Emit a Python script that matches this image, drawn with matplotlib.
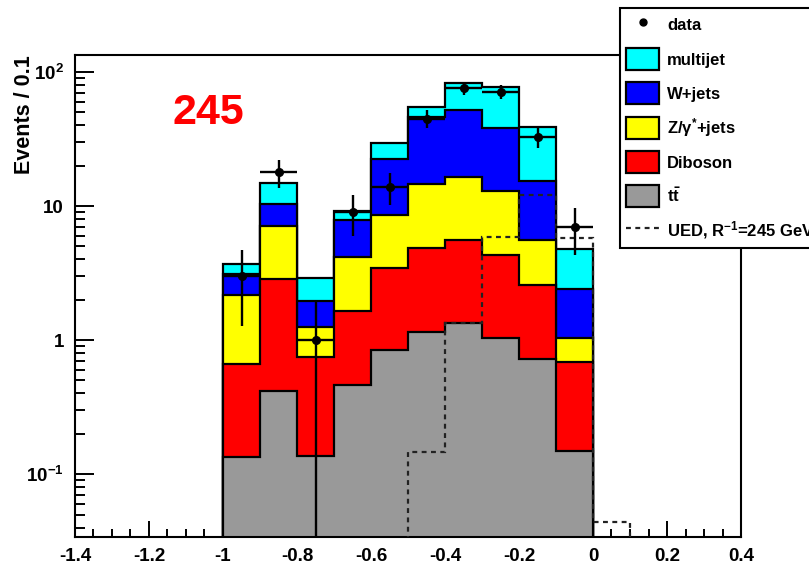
import numpy as np
import matplotlib
matplotlib.use("Agg")
import matplotlib.pyplot as plt
from matplotlib.patches import Patch
from matplotlib.lines import Line2D
from matplotlib.ticker import FixedLocator, FixedFormatter, MultipleLocator

plt.rcParams['font.family'] = ['Liberation Sans', 'DejaVu Sans']
plt.rcParams['mathtext.default'] = 'regular'

# ---------------- data ----------------
bin_edges = [-1.0, -0.9, -0.8, -0.7, -0.6, -0.5, -0.4, -0.3, -0.2, -0.1, 0.0]
ttbar    = [0.134, 0.42, 0.137, 0.46, 0.84, 1.15, 1.34, 1.03, 0.72, 0.149]
diboson  = [0.53, 2.43, 0.61, 1.19, 2.61, 3.71, 4.26, 3.27, 1.88, 0.54]
zjets    = [1.51, 4.25, 0.50, 2.55, 5.15, 9.74, 10.9, 8.6, 3.0, 0.34]
wjets    = [0.93, 3.3, 0.70, 3.7, 13.9, 31.4, 35.5, 25.1, 9.8, 1.37]
multijet = [0.59, 4.4, 0.95, 1.3, 7.0, 8.8, 30.8, 39.0, 23.5, 2.35]

data_x   = [-0.95, -0.85, -0.75, -0.65, -0.55, -0.45, -0.35, -0.25, -0.15, -0.05]
data_y   = [3, 18, 1, 9, 14, 45, 76, 71, 33, 7]
data_err = [1.73, 4.24, 1.0, 3.0, 3.74, 6.71, 8.72, 8.43, 5.74, 2.65]
bin_halfwidth = 0.05

ued_edges  = [-0.5, -0.4, -0.3, -0.2, -0.1, 0.0, 0.1]
ued_values = [0.146, 1.35, 5.9, 12.1, 5.8, 0.044]

layer_names  = ['t$\\bar{t}$', 'Diboson', 'Z/$\\gamma^{*}$+jets', 'W+jets', 'multijet']
layer_colors = ['#999999', '#ff0000', '#ffff00', '#0000ff', '#00ffff']
layers = [ttbar, diboson, zjets, wjets, multijet]

x_ticks = [-1.4, -1.2, -1.0, -0.8, -0.6, -0.4, -0.2, 0.0, 0.2, 0.4]
x_ticklabels = ['-1.4', '-1.2', '-1', '-0.8', '-0.6', '-0.4', '-0.2', '0', '0.2', '0.4']
y_ticks = [0.1, 1, 10, 100]
y_ticklabels = ['$10^{-1}$', '1', '10', '$10^{2}$']

# ---------------- figure ----------------
W, H = 809, 568
fig = plt.figure(figsize=(W / 100, H / 100), dpi=100)
ax = fig.add_axes([75 / W, 1 - 537 / H, (741 - 75) / W, (537 - 55) / H])
ax.set_yscale('log')
ax.set_xlim(-1.4, 0.4)
ax.set_ylim(0.034, 134)

lw = 1.6
tops = np.cumsum(np.array(layers, dtype=float), axis=0)
handles = {}
for i in range(len(layers) - 1, -1, -1):
    ax.stairs(tops[i], bin_edges, baseline=1e-4, fill=True,
              facecolor=layer_colors[i], edgecolor='black', linewidth=lw, zorder=2)
    handles[layer_names[i]] = Patch(facecolor=layer_colors[i], edgecolor='black', linewidth=lw)

ax.stairs(ued_values, ued_edges, baseline=0, fill=False, color='#222222',
          linewidth=1.6, linestyle=(0, (2.2, 2.0)), zorder=3)

lower = [min(e, v * 0.999999) for e, v in zip(data_err, data_y)]
ax.errorbar(data_x, data_y, yerr=[lower, data_err], xerr=bin_halfwidth,
            fmt='o', color='black', markersize=5.5, elinewidth=1.7, capsize=0, zorder=4)

# axes styling
for s in ax.spines.values():
    s.set_linewidth(1.5)
ax.xaxis.set_major_locator(FixedLocator(x_ticks))
ax.xaxis.set_major_formatter(FixedFormatter(x_ticklabels))
ax.xaxis.set_minor_locator(MultipleLocator(0.05))
ax.yaxis.set_major_locator(FixedLocator(y_ticks))
ax.yaxis.set_major_formatter(FixedFormatter(y_ticklabels))
ax.yaxis.set_minor_locator(FixedLocator(
    [m * 10.0 ** e for e in range(-2, 3) for m in range(2, 10)]))
ax.yaxis.set_minor_formatter(FixedFormatter([]))
ax.tick_params(axis='both', which='both', direction='in', top=False, right=False, width=1.4)
ax.tick_params(axis='x', which='major', length=11.5, pad=8)
ax.tick_params(axis='x', which='minor', length=5.8)
ax.tick_params(axis='y', which='major', length=14, pad=8)
ax.tick_params(axis='y', which='minor', length=7)
for lab in ax.get_xticklabels() + ax.get_yticklabels():
    lab.set_fontweight('bold')
    lab.set_fontsize(13.5)

ax.set_ylabel('Events / 0.1', fontsize=15.5, fontweight='bold', loc='top')
ax.yaxis.set_label_coords(-0.06, 1.0)

ax.text(0.147, 0.857, '245', transform=ax.transAxes, color='#ff0000',
        fontsize=31, fontweight='bold', ha='left', va='baseline')

# legend
data_handle = Line2D([], [], marker='o', linestyle='none', color='black', markersize=5)
ued_handle = Line2D([], [], color='#222222', linewidth=1.6, linestyle=(0, (2.2, 2.0)))
leg_handles = [data_handle, handles['multijet'], handles['W+jets'],
               handles['Z/$\\gamma^{*}$+jets'], handles['Diboson'], handles['t$\\bar{t}$'], ued_handle]
leg_labels = ['data', 'multijet', 'W+jets', 'Z/$\\gamma^{*}$+jets', 'Diboson', 't$\\bar{t}$',
              'UED, R$^{-1}$=245 GeV']
leg = fig.legend(leg_handles, leg_labels, loc='upper left',
                 bbox_to_anchor=(620 / W, 1 - 8 / H), bbox_transform=fig.transFigure,
                 frameon=True, fancybox=False, framealpha=1, edgecolor='black',
                 borderpad=0.36, handlelength=2.0, handleheight=1.66, labelspacing=0.72,
                 handletextpad=0.46, borderaxespad=0,
                 prop={'weight': 'bold', 'size': 12})
leg.get_frame().set_linewidth(1.5)
leg.set_zorder(10)

fig.savefig('out.png', dpi=100)
